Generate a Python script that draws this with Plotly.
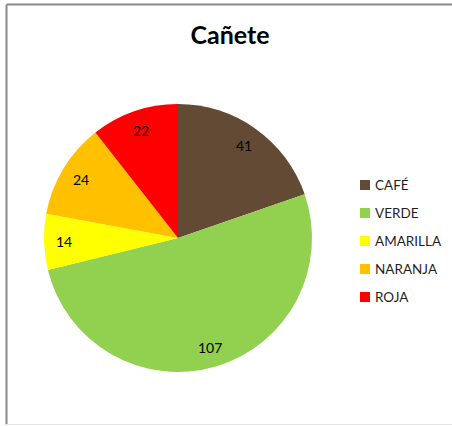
import math
import plotly.graph_objects as go

# Slice data
labels = ["CAFÉ", "VERDE", "AMARILLA", "NARANJA", "ROJA"]
values = [41, 107, 14, 24, 22]
colors = ["#634a35", "#92d050", "#ffff00", "#ffc000", "#ff0000"]
title_text = "Cañete"

W, H = 452, 426
FONT = "Lato, Carlito, Calibri, sans-serif"


def px(x):
    return x / W


def py(y):
    return 1 - y / H


# Pie centred at (178, 238) with a radius of about 134 px
cx, cy, r = 178, 238, 134

fig = go.Figure(
    go.Pie(
        labels=labels,
        values=values,
        sort=False,
        direction="clockwise",
        rotation=0,
        marker=dict(colors=colors, line=dict(width=0)),
        textinfo="none",
        domain=dict(x=[px(cx - r), px(cx + r)], y=[py(cy + r), py(cy - r)]),
        showlegend=False,
        hoverinfo="label+value+percent",
    )
)

shapes = [
    # chart frame
    dict(type="line", xref="paper", yref="paper", x0=px(6.5), x1=px(6.5),
         y0=py(4.5), y1=py(424.5), line=dict(color="#8a8a8a", width=2)),
    dict(type="line", xref="paper", yref="paper", x0=px(6.5), x1=1.0,
         y0=py(4.5), y1=py(4.5), line=dict(color="#8a8a8a", width=2)),
    dict(type="line", xref="paper", yref="paper", x0=px(6.5), x1=1.0,
         y0=py(424.5), y1=py(424.5), line=dict(color="#e6e6e6", width=1)),
]
annotations = []

# Value labels placed towards the outer edge of each slice, on its bisector
total = sum(values)
start = 0.0
for v in values:
    mid = (start + v / 2) / total * 2 * math.pi
    d = 0.85 * r
    lx = cx + d * math.sin(mid)
    ly = cy - d * math.cos(mid)
    annotations.append(dict(text=str(v), xref="paper", yref="paper",
                            x=px(lx), y=py(ly), xanchor="center",
                            yanchor="middle", showarrow=False,
                            font=dict(family=FONT, size=14, color="#000000")))
    start += v

# Legend entries: coloured square plus label
leg_x, leg_y0, leg_step, sq = 360, 185, 28, 10
for i, (lab, col) in enumerate(zip(labels, colors)):
    yc = leg_y0 + i * leg_step
    shapes.append(dict(type="rect", xref="paper", yref="paper",
                       x0=px(leg_x), x1=px(leg_x + sq),
                       y0=py(yc + sq / 2), y1=py(yc - sq / 2),
                       fillcolor=col, line=dict(width=0)))
    annotations.append(dict(text=lab, xref="paper", yref="paper",
                            x=px(leg_x + sq + 3), y=py(yc), xanchor="left",
                            yanchor="middle", showarrow=False,
                            font=dict(family=FONT, size=13.5, color="#1f1f1f")))

fig.update_layout(
    width=W,
    height=H,
    margin=dict(l=0, r=0, t=0, b=0),
    paper_bgcolor="#ffffff",
    plot_bgcolor="#ffffff",
    title=dict(text="<b>" + title_text + "</b>", x=px(230), xanchor="center",
               y=py(35), yanchor="middle",
               font=dict(family=FONT, size=25, color="#000000")),
    shapes=shapes,
    annotations=annotations,
)

fig.write_html("out.html")
